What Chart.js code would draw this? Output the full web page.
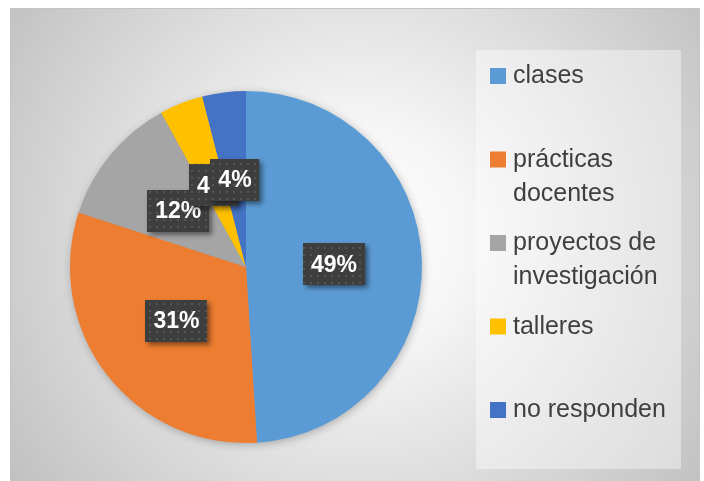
<!DOCTYPE html>
<html>
<head>
<meta charset="utf-8">
<script src="https://cdn.jsdelivr.net/npm/chart.js@4.4.1/dist/chart.umd.min.js"></script>
<style>
  html, body { margin: 0; padding: 0; background: #fff; }
  #wrap { width: 704px; height: 481px; position: relative; }
</style>
</head>
<body>
<div id="wrap"><canvas id="chartUso"></canvas></div>
<script>
// Datos de la gráfica
const categorias = ['clases', 'prácticas docentes', 'proyectos de investigación', 'talleres', 'no responden'];
const porcentajes = [49, 31, 12, 4, 4];
const colores = ['#5B9BD5', '#ED7D31', '#A5A5A5', '#FFC000', '#4472C4'];

const FONT = '"Liberation Sans", Arial, sans-serif';

// Patrón punteado para las etiquetas
function crearPatron(ctx) {
  const c = document.createElement('canvas');
  c.width = 7; c.height = 7;
  const p = c.getContext('2d');
  p.fillStyle = '#3e3e3e';
  p.fillRect(0, 0, 7, 7);
  p.fillStyle = '#555555';
  p.fillRect(2, 2, 2, 2);
  return ctx.createPattern(c, 'repeat');
}

// Fondo del marco y caja de leyenda
const fondoPlugin = {
  id: 'fondo',
  beforeDraw(chart) {
    const ctx = chart.ctx;
    ctx.save();
    ctx.fillStyle = '#ffffff';
    ctx.fillRect(0, 0, chart.width, chart.height);
    const g = ctx.createRadialGradient(360, 235, 0, 360, 235, 430);
    g.addColorStop(0, '#ffffff');
    g.addColorStop(0.25, '#f6f6f6');
    g.addColorStop(1, '#c0c0c0');
    ctx.fillStyle = g;
    ctx.fillRect(10.5, 8.5, 689, 473);
    ctx.strokeStyle = '#c4c4c4';
    ctx.lineWidth = 1;
    ctx.strokeRect(10.5, 8.5, 689, 473);
    // caja de leyenda
    ctx.fillStyle = 'rgba(255,255,255,0.4)';
    ctx.fillRect(476, 50, 205, 419);
    ctx.restore();
  },
  beforeDatasetsDraw(chart) {
    // sombra suave del pastel
    const arc = chart.getDatasetMeta(0).data[0];
    if (!arc) return;
    const ctx = chart.ctx;
    ctx.save();
    ctx.shadowColor = 'rgba(0,0,0,0.3)';
    ctx.shadowBlur = 10;
    ctx.shadowOffsetX = 1;
    ctx.shadowOffsetY = 2;
    ctx.fillStyle = '#999';
    ctx.beginPath();
    ctx.arc(arc.x, arc.y, arc.outerRadius - 1, 0, Math.PI * 2);
    ctx.fill();
    ctx.restore();
  }
};

// Etiquetas de porcentaje con caja oscura
const etiquetasPlugin = {
  id: 'etiquetas',
  afterDatasetsDraw(chart) {
    const ctx = chart.ctx;
    const meta = chart.getDatasetMeta(0);
    const patron = crearPatron(ctx);
    ctx.save();
    ctx.font = 'bold 23px ' + FONT;
    ctx.textAlign = 'center';
    ctx.textBaseline = 'middle';
    meta.data.forEach((arc, i) => {
      const pos = arc.tooltipPosition();
      const txt = porcentajes[i] + '%';
      const w = ctx.measureText(txt).width + 16;
      const h = 42;
      const x = Math.round(pos.x - w / 2), y = Math.round(pos.y - h / 2);
      ctx.save();
      ctx.shadowColor = 'rgba(0,0,0,0.45)';
      ctx.shadowBlur = 5;
      ctx.shadowOffsetX = 3;
      ctx.shadowOffsetY = 3;
      ctx.fillStyle = patron;
      ctx.fillRect(x, y, w, h);
      ctx.restore();
      ctx.fillStyle = '#ffffff';
      ctx.fillText(txt, pos.x, pos.y + 1);
    });
    ctx.restore();
  }
};

// Leyenda a la derecha, con texto partido en líneas
const leyendaPlugin = {
  id: 'leyenda',
  afterDraw(chart) {
    const ctx = chart.ctx;
    ctx.save();
    ctx.font = '25px ' + FONT;
    ctx.textBaseline = 'alphabetic';
    const maxW = 164;
    chart.data.labels.forEach((lab, i) => {
      const base = 83 + i * 83.5;
      ctx.fillStyle = colores[i];
      ctx.fillRect(490, base - 15, 16, 16);
      const palabras = lab.split(' ');
      const lineas = [];
      let actual = '';
      palabras.forEach(p => {
        const prueba = actual ? actual + ' ' + p : p;
        if (ctx.measureText(prueba).width > maxW && actual) {
          lineas.push(actual);
          actual = p;
        } else {
          actual = prueba;
        }
      });
      lineas.push(actual);
      ctx.fillStyle = '#3f3f3f';
      lineas.forEach((l, k) => ctx.fillText(l, 513, base + k * 34));
    });
    ctx.restore();
  }
};

new Chart(document.getElementById('chartUso').getContext('2d'), {
  type: 'pie',
  data: {
    labels: categorias,
    datasets: [{
      data: porcentajes,
      backgroundColor: colores,
      borderColor: '#ffffff',
      borderWidth: 0
    }]
  },
  options: {
    responsive: true,
    maintainAspectRatio: false,
    animation: false,
    layout: { padding: { left: 70, right: 282, top: 91, bottom: 38 } },
    plugins: {
      legend: { display: false },
      tooltip: { enabled: false }
    }
  },
  plugins: [fondoPlugin, etiquetasPlugin, leyendaPlugin]
});
</script>
</body>
</html>
